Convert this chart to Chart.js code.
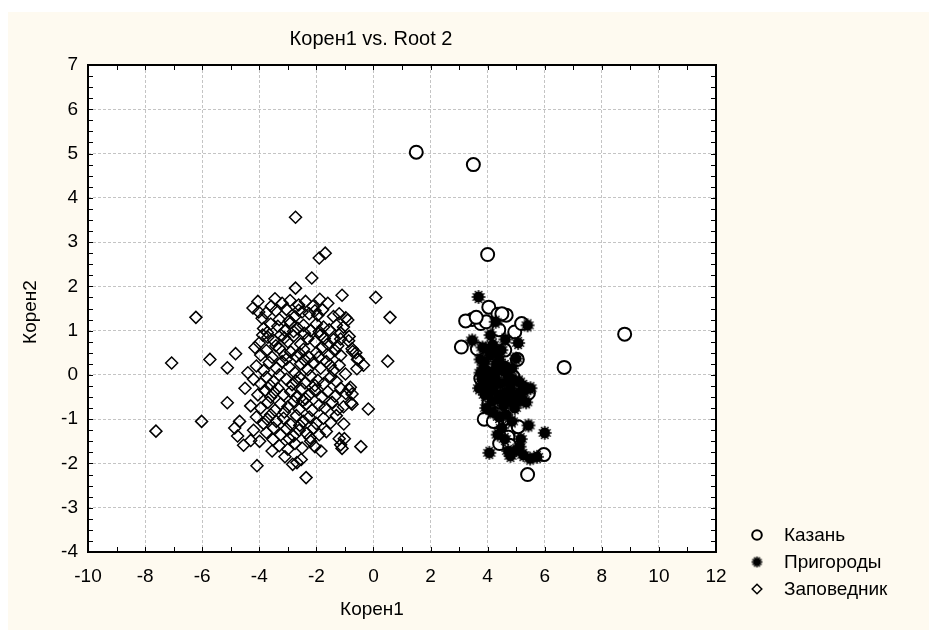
<!DOCTYPE html>
<html>
<head>
<meta charset="utf-8">
<script src="https://cdn.jsdelivr.net/npm/chart.js@4.4.0/dist/chart.umd.min.js"></script>
<style>
  html, body { margin: 0; padding: 0; background: #fff; }
</style>
</head>
<body>
<canvas id="chart" width="929" height="630"></canvas>
<script>
const chartTitle = 'Корен1 vs. Root 2';
const xTitle = 'Корен1';
const yTitle = 'Корен2';
const seriesNames = ['Казань', 'Пригороды', 'Заповедник'];

const xMin = -10, xMax = 12, xStep = 2, xMinor = 1;
const yMin = -4, yMax = 7, yStep = 1, yMinor = 0.25;

// Казань
const kazan = [
  [1.50,5.03],[3.50,4.75],[4.00,2.72],[8.80,0.92],[6.68,0.17],[5.40,-2.25],[5.97,-1.80],
  [4.04,1.53],[3.46,1.25],[3.23,1.22],[3.76,1.16],[4.36,1.37],[4.65,1.35],[4.39,1.02],[4.95,0.97],[5.19,1.16],
  [3.08,0.63],[3.64,0.59],[4.60,0.56],[5.04,0.35],[3.76,-0.08],[5.43,-0.41],[4.04,-0.65],[4.42,-0.61],
  [3.88,-1.00],[4.32,-1.06],[4.77,-1.25],[5.07,-1.17],[4.71,-1.40],[4.42,-1.55],[4.77,-1.59],
  [3.95,1.20],[4.50,1.38],[4.15,0.30],[4.90,-0.05],[5.15,-0.30],[4.55,0.15],[4.85,-0.55],[4.20,-1.05],[3.60,1.30]
];

// Пригороды
const prigorody = [
  [3.68,1.76],[5.40,1.12],[5.07,0.72],[3.46,0.78],[3.94,0.59],[4.48,0.56],[5.00,0.37],[3.75,0.35],[4.10,0.45],[4.30,0.25],
  [3.85,0.15],[4.05,0.05],[4.25,-0.05],[4.50,0.10],[4.70,0.00],[4.90,-0.10],[5.10,-0.15],[5.25,-0.25],[3.80,-0.10],[4.00,-0.25],
  [4.20,-0.35],[4.45,-0.20],[4.60,-0.40],[4.80,-0.30],[5.00,-0.45],[5.20,-0.55],[3.90,-0.45],[4.15,-0.60],[4.35,-0.55],[4.55,-0.70],
  [4.75,-0.60],[4.95,-0.75],[3.95,-0.75],[4.20,-0.85],[4.40,-0.95],[4.65,-0.90],[5.43,-1.14],[6.00,-1.31],[4.06,-1.76],[5.00,-1.70],
  [5.25,-1.81],[5.49,-1.89],[5.73,-1.85],[5.16,-1.45],[4.80,-1.83],[4.50,-1.20],[4.35,-1.35],[4.10,0.90],[4.28,1.20],[4.62,0.80],
  [3.70,-0.30],[3.75,0.05],[4.40,0.35],[4.60,0.20],[4.85,0.15],[5.30,-0.35],[5.15,-0.38],[4.70,-0.15],[4.30,-0.15],[4.05,-0.40],
  [4.45,-0.45],[4.10,-0.15],[3.90,0.30],[4.30,0.55],[4.75,-0.45],[4.55,-0.55],[5.05,-0.60],[4.85,-1.05],[4.60,-1.45],[5.50,-0.30],
  [3.82,0.62],[4.18,0.68],[3.98,-0.05],[5.35,-0.62],[4.92,-0.50],[5.12,-1.62],[4.72,-1.72],[4.25,0.10]
];

// Заповедник
const zapovednik = [
  [-2.73,3.56],[-1.90,2.64],[-1.69,2.75],[-2.16,2.19],[-2.73,1.96],[-1.10,1.80],[0.08,1.75],[0.58,1.30],[0.50,0.31],
  [-6.22,1.30],[-7.07,0.27],[-7.62,-1.27],[-6.02,-1.05],[-5.73,0.35],[-4.83,0.48],[-5.12,0.16],[-5.12,-0.63],
  [-4.69,-1.05],[-4.86,-1.20],[-4.76,-1.38],[-4.55,-1.59],[-4.08,-2.05],[-3.99,-1.50],[-3.52,-1.46],[-3.00,-1.68],
  [-2.83,-2.02],[-2.53,-1.91],[-2.36,-2.32],[-1.84,-1.72],[-1.20,-1.44],[-1.02,-1.44],[-0.44,-1.62],[-0.18,-0.77],
  [-0.79,-0.63],[-0.97,-0.42],[-0.85,-0.33],[-0.35,0.22],[-0.56,0.35],[-0.62,0.50],[-0.73,0.53],[-0.85,0.87],
  [-0.97,1.29],[-0.90,1.24],[-1.60,1.62],[-4.22,1.51],[-4.05,1.66],[-3.76,1.40],[-3.58,1.55],
  [-3.20,1.62],[-2.92,1.68],[-2.62,1.58],[-2.38,1.66],[-2.12,1.55],[-1.88,1.71],[-3.45,1.72],[-2.05,1.45],
  [-3.42,1.45],[-3.05,1.48],[-2.75,1.32],[-2.50,1.42],[-2.25,1.38],[-1.95,1.35],[-1.78,1.47],[-1.40,1.32],
  [-3.90,1.28],[-3.30,1.25],[-2.95,1.22],[-1.20,1.38],[-4.02,1.42],[-2.62,1.46],
  [-3.85,1.05],[-3.60,1.15],[-3.35,1.10],[-3.10,1.00],[-2.90,1.18],[-2.65,1.05],[-2.45,1.12],[-2.20,1.00],
  [-2.00,1.15],[-1.75,1.08],[-1.55,1.02],[-1.30,1.12],[-1.15,0.95],[-3.72,0.96],[-2.80,0.98],[-1.90,0.98],[-1.05,1.08],
  [-4.00,0.72],[-3.70,0.85],[-3.50,0.78],[-3.25,0.90],[-3.00,0.75],[-2.80,0.88],[-2.55,0.70],[-2.30,0.82],
  [-2.05,0.75],[-1.85,0.90],[-1.60,0.70],[-1.40,0.80],[-1.15,0.81],[-0.87,0.77],[-3.88,0.90],[-3.12,0.84],[-2.42,0.94],[-1.72,0.82],
  [-3.95,0.45],[-3.75,0.55],[-3.55,0.40],[-3.30,0.60],[-3.10,0.45],[-2.90,0.52],[-2.70,0.42],[-2.45,0.58],
  [-2.25,0.40],[-2.00,0.50],[-1.80,0.62],[-1.55,0.45],[-1.35,0.55],[-1.15,0.44],[-0.75,0.59],[-0.53,0.36],
  [-4.15,0.62],[-3.42,0.66],[-2.58,0.48],[-1.92,0.40],[-1.25,0.66],
  [-4.10,0.20],[-3.85,0.10],[-3.65,0.28],[-3.40,0.15],[-3.20,0.30],[-2.95,0.18],[-2.75,0.05],[-2.55,0.25],
  [-2.30,0.12],[-2.10,0.28],[-1.85,0.15],[-1.65,0.30],[-1.40,0.10],[-1.20,0.22],[-0.58,0.14],[-4.40,0.05],
  [-3.05,0.36],[-2.42,0.34],[-1.52,0.22],[-0.98,0.02],
  [-4.20,-0.10],[-3.95,-0.20],[-3.75,-0.05],[-3.50,-0.15],[-3.30,0.00],[-3.05,-0.10],[-2.85,-0.22],[-2.60,-0.05],
  [-2.40,-0.18],[-2.20,-0.02],[-1.95,-0.12],[-1.75,-0.20],[-1.50,-0.05],[-1.30,-0.15],[-0.81,-0.28],[-3.62,-0.24],
  [-2.72,-0.14],[-2.05,-0.24],
  [-4.50,-0.30],[-4.05,-0.45],[-3.80,-0.35],[-3.60,-0.50],[-3.35,-0.30],[-3.15,-0.45],[-2.90,-0.38],[-2.70,-0.50],
  [-2.50,-0.32],[-2.25,-0.45],[-2.05,-0.35],[-1.80,-0.50],[-1.60,-0.38],[-1.35,-0.48],[-0.75,-0.43],[-3.48,-0.40],
  [-2.38,-0.54],[-1.15,-0.30],
  [-4.30,-0.70],[-3.95,-0.75],[-3.70,-0.62],[-3.45,-0.80],[-3.25,-0.65],[-3.00,-0.72],[-2.80,-0.60],[-2.60,-0.78],
  [-2.35,-0.65],[-2.15,-0.80],[-1.90,-0.68],[-1.70,-0.75],[-1.45,-0.62],[-1.25,-0.78],[-0.75,-0.66],[-3.12,-0.84],
  [-2.48,-0.58],[-1.05,-0.72],
  [-4.10,-0.95],[-3.85,-1.10],[-3.60,-0.90],[-3.40,-1.05],[-3.15,-0.98],[-2.90,-1.12],[-2.70,-0.92],[-2.45,-1.05],
  [-2.25,-0.95],[-2.00,-1.10],[-1.75,-0.98],[-1.50,-1.08],[-1.04,-1.11],[-3.72,-1.00],[-2.58,-1.14],[-1.30,-0.92],
  [-4.20,-1.25],[-3.75,-1.30],[-3.50,-1.20],[-3.25,-1.35],[-3.05,-1.22],[-2.80,-1.38],[-2.60,-1.25],[-2.35,-1.32],
  [-2.10,-1.20],[-1.90,-1.35],[-1.65,-1.28],[-2.95,-1.44],[-2.22,-1.42],
  [-3.30,-1.60],[-2.75,-1.55],[-2.50,-1.65],[-2.20,-1.50],[-1.15,-1.58],[-1.10,-1.66],[-3.55,-1.72],[-2.05,-1.62],[-4.30,-1.48],
  [-3.10,-1.85],[-2.68,-1.98]
];

const cream = '#fefaf0';
const fontFamily = 'Arial, "Liberation Sans", sans-serif';
const textSize = 19;

// filled black marker with little spikes, used for Пригороды
function spikyMarker(r) {
  const s = Math.ceil(r * 2 + 2);
  const c = document.createElement('canvas');
  c.width = s; c.height = s;
  const g = c.getContext('2d');
  g.translate(s / 2, s / 2);
  g.fillStyle = '#000';
  g.beginPath(); g.arc(0, 0, r - 1.6, 0, Math.PI * 2); g.fill();
  g.strokeStyle = '#000'; g.lineWidth = 1.4;
  for (let i = 0; i < 12; i++) {
    const a = i * Math.PI / 6;
    g.beginPath();
    g.moveTo(Math.cos(a) * (r - 2.5), Math.sin(a) * (r - 2.5));
    g.lineTo(Math.cos(a) * r, Math.sin(a) * r);
    g.stroke();
  }
  return c;
}
const spikyBig = spikyMarker(7);
const spikySmall = spikyMarker(5.5);

const toPoints = arr => arr.map(p => ({ x: p[0], y: p[1] }));

const paper = {
  id: 'paper',
  beforeDraw(chart) {
    const { ctx, chartArea: a } = chart;
    ctx.save();
    ctx.fillStyle = '#ffffff';
    ctx.fillRect(0, 0, chart.width, chart.height);
    ctx.fillStyle = cream;
    ctx.fillRect(8, 12, chart.width - 8, chart.height - 12);
    ctx.fillStyle = '#ffffff';
    ctx.fillRect(a.left, a.top, a.right - a.left, a.bottom - a.top);
    ctx.restore();
  }
};

const frame = {
  id: 'frame',
  afterDatasetsDraw(chart) {
    const { ctx, chartArea: a, scales: { x, y } } = chart;
    ctx.save();
    ctx.strokeStyle = '#000';
    ctx.lineWidth = 1;
    ctx.beginPath();
    for (let v = xMin; v <= xMax; v += xMinor) {
      const px = Math.round(x.getPixelForValue(v)) + 0.5;
      ctx.moveTo(px, a.bottom); ctx.lineTo(px, a.bottom - 5);
      ctx.moveTo(px, a.top); ctx.lineTo(px, a.top + 5);
    }
    for (let v = yMin; v <= yMax + 1e-9; v += yMinor) {
      const py = Math.round(y.getPixelForValue(v)) + 0.5;
      ctx.moveTo(a.left, py); ctx.lineTo(a.left + 5, py);
      ctx.moveTo(a.right, py); ctx.lineTo(a.right - 5, py);
    }
    ctx.stroke();
    ctx.lineWidth = 2;
    ctx.strokeRect(a.left, a.top, a.right - a.left, a.bottom - a.top);
    ctx.restore();
  },
  afterDraw(chart) {
    const { ctx } = chart;
    ctx.save();
    ctx.fillStyle = '#000';
    ctx.textAlign = 'center';
    ctx.textBaseline = 'middle';
    ctx.font = '20px ' + fontFamily;
    ctx.fillText(chartTitle, 371, 39);
    ctx.font = textSize + 'px ' + fontFamily;
    ctx.fillText(xTitle, 372, 610);
    ctx.save();
    ctx.translate(31, 312);
    ctx.rotate(-Math.PI / 2);
    ctx.fillText(yTitle, 0, 0);
    ctx.restore();

    // legend
    const lx = 757, rows = [535, 562, 589];
    ctx.textAlign = 'left';
    ctx.strokeStyle = '#000';
    ctx.lineWidth = 2;
    ctx.beginPath(); ctx.arc(lx, rows[0], 4.8, 0, Math.PI * 2); ctx.stroke();
    ctx.drawImage(spikySmall, lx - spikySmall.width / 2, rows[1] - spikySmall.height / 2);
    ctx.lineWidth = 1.5;
    const d = 4.8;
    ctx.beginPath();
    ctx.moveTo(lx - d, rows[2]); ctx.lineTo(lx, rows[2] - d);
    ctx.lineTo(lx + d, rows[2]); ctx.lineTo(lx, rows[2] + d);
    ctx.closePath(); ctx.stroke();
    seriesNames.forEach((n, i) => ctx.fillText(n, 784, rows[i] + 1));
    ctx.restore();
  }
};

new Chart(document.getElementById('chart'), {
  type: 'scatter',
  data: {
    datasets: [
      {
        label: seriesNames[0], data: toPoints(kazan), order: 1,
        pointStyle: 'circle', radius: 6.5, borderWidth: 2,
        borderColor: '#000', backgroundColor: '#ffffff'
      },
      {
        label: seriesNames[1], data: toPoints(prigorody), order: 0,
        pointStyle: spikyBig, radius: 7
      },
      {
        label: seriesNames[2], data: toPoints(zapovednik), order: 2,
        pointStyle: 'rectRot', radius: 6, borderWidth: 1.5,
        borderColor: '#000', backgroundColor: 'rgba(0,0,0,0)'
      }
    ]
  },
  options: {
    responsive: false,
    animation: false,
    events: [],
    layout: { padding: { top: 65, right: 213, left: 0, bottom: 0 } },
    plugins: { legend: { display: false }, title: { display: false }, tooltip: { enabled: false } },
    scales: {
      x: {
        type: 'linear', min: xMin, max: xMax,
        afterFit(s) { s.height = 78; },
        ticks: { stepSize: xStep, color: '#000', padding: 13, font: { family: fontFamily, size: textSize } },
        grid: { color: '#c4c4c4', lineWidth: 1, drawTicks: false },
        border: { display: false, dash: [3, 2] }
      },
      y: {
        type: 'linear', min: yMin, max: yMax,
        afterFit(s) { s.width = 88; },
        ticks: { stepSize: yStep, color: '#000', padding: 10, font: { family: fontFamily, size: textSize } },
        grid: { color: '#c4c4c4', lineWidth: 1, drawTicks: false },
        border: { display: false, dash: [3, 2] }
      }
    }
  },
  plugins: [paper, frame]
});
</script>
</body>
</html>
